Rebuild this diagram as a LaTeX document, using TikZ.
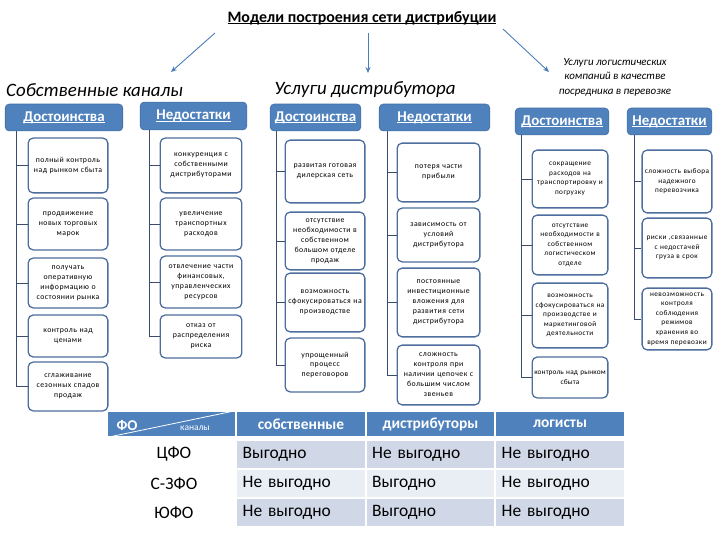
\documentclass[tikz,border=0pt]{standalone}
\usepackage{fontspec}
\setmainfont{Carlito}
\newfontfamily\boxfont{Carlito}[LetterSpace=6]
\newfontfamily\tightfont{Carlito}[LetterSpace=2]
\usetikzlibrary{arrows.meta}
\definecolor{hblue}{HTML}{4F81BD}
\definecolor{bord}{HTML}{4E6E9E}
\definecolor{lineclr}{HTML}{3B4B6B}
\definecolor{arrc}{HTML}{4A7EBB}
\definecolor{rowd}{HTML}{D0D8E8}
\definecolor{rowl}{HTML}{E9EDF4}
\newcommand\hul[1]{\leavevmode\setbox0=\hbox{#1}\rlap{\raisebox{-2.2pt}{\rule{\wd0}{0.9pt}}}\box0}
\tikzset{
  hbox/.style={fill=hblue, draw=hblue!85!black, line width=0.6pt, rounded corners=4pt, text=white, font=\bfseries\fontsize{15}{17}\selectfont, inner sep=0pt},
  cbox/.style={fill=white, draw=bord, line width=1.3pt, rounded corners=5pt, font=\boxfont\fontsize{7.8}{10}\selectfont, align=center, inner sep=1pt},
  sbox/.style={cbox, font=\boxfont\fontsize{7.3}{9.6}\selectfont},
  connline/.style={draw=lineclr, line width=1pt},
  arr/.style={draw=arrc, line width=0.9pt, -{Stealth[length=6pt,width=5pt]}},
  lab/.style={font=\itshape\fontsize{19}{21}\selectfont},
  th/.style={fill=hblue, draw=white, line width=1pt, text=white, font=\bfseries\fontsize{15.5}{17}\selectfont, minimum height=26, inner sep=0pt},
  td/.style={draw=white, line width=1pt, font=\fontsize{17.5}{19}\selectfont, minimum height=29, minimum width=129, text width=117, inner xsep=6pt, inner ysep=0pt, align=left},
  rl/.style={font=\fontsize{17.5}{19}\selectfont, inner sep=0pt}
}
\begin{document}
\begin{tikzpicture}[x=1bp,y=-1bp]
\fill[white] (0,0) rectangle (720,540);
\useasboundingbox (0,0) rectangle (720,540);

% title and arrows
\node[font=\bfseries\fontsize{16}{18}\selectfont] (title) at (362,18) {\hul{Модели построения сети дистрибуции}};
\coordinate (a1s) at (215,33); \coordinate (a1e) at (171,72);
\coordinate (a2s) at (368,33); \coordinate (a2e) at (368,73);
\coordinate (a3s) at (503,29); \coordinate (a3e) at (549,72);
\draw[arr] (a1s) -- (a1e);
\draw[arr] (a2s) -- (a2e);
\draw[arr] (a3s) -- (a3e);

% group labels
\node[lab, anchor=west, inner sep=0pt] (l1) at (6,90) {Собственные каналы};
\node[lab] (l2) at (365,90) {Услуги дистрибутора};
\node[font=\itshape\fontsize{11}{14.5}\selectfont, align=center] (l3) at (615,77) {Услуги логистических\\компаний в качестве\\посредника в перевозке};

% header boxes
\node[hbox, minimum width=118, minimum height=27] (h1) at (64,117.5) {\hul{Достоинства}};
\node[hbox, minimum width=107, minimum height=28] (h2) at (193.5,116) {\hul{Недостатки}};
\node[hbox, minimum width=91, minimum height=27] (h3) at (315.5,117.5) {\hul{Достоинства}};
\node[hbox, minimum width=111, minimum height=27] (h4) at (434.5,117.5) {\hul{Недостатки}};
\node[hbox, minimum width=94, minimum height=27] (h5) at (562,121.5) {\hul{Достоинства}};
\node[hbox, minimum width=85, minimum height=27] (h6) at (669.5,121.5) {\hul{Недостатки}};

% column 1
\node[cbox, minimum width=80, minimum height=55, text width=78] (b11) at (68,165.5) {полный контроль\\над рынком сбыта};
\node[cbox, minimum width=80, minimum height=52, text width=78] (b12) at (68,224) {продвижение\\новых торговых\\марок};
\node[cbox, minimum width=80, minimum height=50, text width=78] (b13) at (68,283) {получать\\оперативную\\информацию о\\состоянии рынка};
\node[cbox, minimum width=80, minimum height=42, text width=78] (b14) at (68,336) {контроль над\\ценами};
\node[cbox, minimum width=80, minimum height=49, text width=78] (b15) at (68,386.5) {сглаживание\\сезонных спадов\\продаж};
% column 2
\node[cbox, minimum width=82, minimum height=55, text width=80] (b21) at (201,165.5) {конкуренция с\\собственными\\дистрибуторами};
\node[cbox, minimum width=82, minimum height=52, text width=80] (b22) at (201,224) {увеличение\\транспортных\\расходов};
\node[cbox, minimum width=82, minimum height=52, text width=80] (b23) at (201,282) {отвлечение части\\финансовых,\\управленческих\\ресурсов};
\node[cbox, minimum width=82, minimum height=43, text width=80] (b24) at (201,336.5) {отказ от\\распределения\\риска};
% column 3
\node[cbox, minimum width=80, minimum height=63, text width=78] (b31) at (325,171.5) {развитая готовая\\дилерская сеть};
\node[cbox, minimum width=80, minimum height=58, text width=78] (b32) at (325,241) {отсутствие\\необходимости в\\собственном\\большом отделе\\продаж};
\node[cbox, minimum width=80, minimum height=59, text width=78] (b33) at (325,302.5) {возможность\\сфокусироваться на\\производстве};
\node[cbox, minimum width=80, minimum height=54, text width=78] (b34) at (325,365) {упрощенный\\процесс\\переговоров};
% column 4
\node[cbox, minimum width=83, minimum height=59, text width=81] (b41) at (438.5,172.5) {потеря части\\прибыли};
\node[cbox, minimum width=83, minimum height=54, text width=81] (b42) at (438.5,235) {зависимость от\\условий\\дистрибутора};
\node[cbox, minimum width=83, minimum height=69, text width=81] (b43) at (438.5,302.5) {постоянные\\инвестиционные\\вложения для\\развития сети\\дистрибутора};
\node[cbox, minimum width=83, minimum height=60, text width=81] (b44) at (438.5,375) {сложность\\контроля при\\наличии цепочек с\\большим числом\\звеньев};
% column 5
\node[sbox, minimum width=76, minimum height=58, text width=74] (b51) at (570,179) {сокращение\\расходов на\\транспортировку и\\погрузку};
\node[sbox, minimum width=76, minimum height=60, text width=74] (b52) at (570,245) {отсутствие\\необходимости в\\собственном\\логистическом\\отделе};
\node[sbox, minimum width=76, minimum height=65, text width=74] (b53) at (570,315.5) {возможность\\сфокусироваться на\\производстве и\\маркетинговой\\деятельности};
\node[sbox, minimum width=76, minimum height=41, text width=74, font=\tightfont\fontsize{7.3}{9.6}\selectfont] (b54) at (570,377.5) {контроль над рынком\\сбыта};
% column 6
\node[sbox, minimum width=70, minimum height=63, text width=68] (b61) at (677,181.5) {сложность выбора\\надежного\\перевозчика};
\node[sbox, minimum width=70, minimum height=60, text width=68] (b62) at (677,248) {риски ,связанные\\с недостачей\\груза в срок};
\node[sbox, minimum width=70, minimum height=62, text width=68] (b63) at (677,319) {невозможность\\контроля\\соблюдения\\режимов\\хранения во\\время перевозки};

% connectors
\coordinate (v1) at ([xshift=12pt]h1.south west);
\coordinate (v2) at ([xshift=10pt]h2.south west);
\coordinate (v3) at ([xshift=7pt]h3.south west);
\coordinate (v4) at ([xshift=9pt]h4.south west);
\coordinate (v5) at ([xshift=7pt]h5.south west);
\coordinate (v6) at ([xshift=8pt]h6.south west);
\draw[connline] (v1) |- (b15.west);
\foreach \b in {b11,b12,b13,b14} \draw[connline] (v1 |- \b.west) -- (\b.west);
\draw[connline] (v2) |- (b24.west);
\foreach \b in {b21,b22,b23} \draw[connline] (v2 |- \b.west) -- (\b.west);
\draw[connline] (v3) |- (b34.west);
\foreach \b in {b31,b32,b33} \draw[connline] (v3 |- \b.west) -- (\b.west);
\draw[connline] (v4) |- (b44.west);
\foreach \b in {b41,b42,b43} \draw[connline] (v4 |- \b.west) -- (\b.west);
\draw[connline] (v5) |- (b54.west);
\foreach \b in {b51,b52,b53} \draw[connline] (v5 |- \b.west) -- (\b.west);
\draw[connline] (v6) |- (b63.west);
\foreach \b in {b61,b62} \draw[connline] (v6 |- \b.west) -- (\b.west);

% table header
\node[th, minimum width=129] (th0) at (171.5,424) {};
\draw[white, line width=0.8pt] (th0.south west) -- (th0.north east);
\node[text=white, font=\bfseries\fontsize{15}{17}\selectfont, inner sep=0pt] (fo) at (127,425) {ФО};
\node[text=white, font=\fontsize{9.5}{10}\selectfont, inner sep=0pt] (kan) at (195,428) {каналы};
\node[th, minimum width=129] (th1) at (301,424) {собственные};
\node[th, minimum width=129] (th2) at (430.5,424) {дистрибуторы};
\node[th, minimum width=129] (th3) at (560,424) {логисты};

% table rows
\node[rl] (r1) at (174,454.5) {ЦФО};
\node[rl] (r2) at (174,483.5) {С-ЗФО};
\node[rl] (r3) at (174,512.5) {ЮФО};
\node[td, fill=rowd] (c11) at (301,454.5) {Выгодно};
\node[td, fill=rowd] (c12) at (430.5,454.5) {Не выгодно};
\node[td, fill=rowd] (c13) at (560,454.5) {Не выгодно};
\node[td, fill=rowl] (c21) at (301,483.5) {Не выгодно};
\node[td, fill=rowl] (c22) at (430.5,483.5) {Выгодно};
\node[td, fill=rowl] (c23) at (560,483.5) {Не выгодно};
\node[td, fill=rowd] (c31) at (301,512.5) {Не выгодно};
\node[td, fill=rowd] (c32) at (430.5,512.5) {Выгодно};
\node[td, fill=rowd] (c33) at (560,512.5) {Не выгодно};
\end{tikzpicture}
\end{document}
